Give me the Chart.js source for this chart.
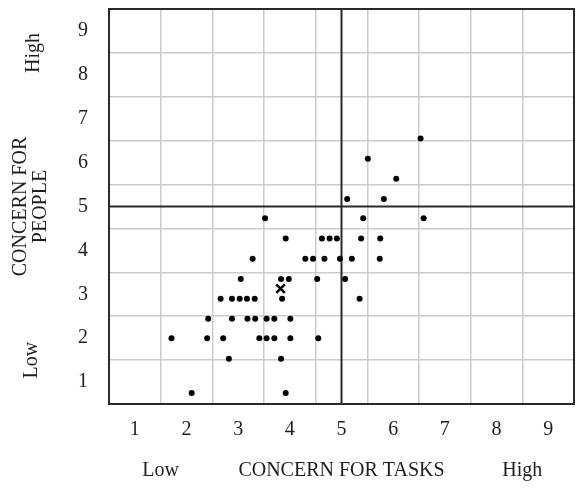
<!DOCTYPE html>
<html>
<head>
<meta charset="utf-8">
<script src="https://cdn.jsdelivr.net/npm/chart.js@4/dist/chart.umd.min.js"></script>
<style>
    body { margin: 0; background: #fff; }
    canvas { display: block; }
</style>
</head>
<body>
<canvas id="myChart" width="576" height="491"></canvas>
<script>
//
// DATA  (task score = x, people score = y)
//
const tickValues = [1, 2, 3, 4, 5, 6, 7, 8, 9];
const midValue = 5;

const taskScores = [
    6.53,
    5.51,
    6.06,
    5.11, 5.82,
    3.52, 5.42, 6.59,
    3.92, 4.62, 4.77, 4.91, 5.38, 5.75,
    3.28, 4.30, 4.45, 4.67, 4.97, 5.20, 5.74,
    3.05, 3.83, 3.98, 4.53, 5.07,
    2.66, 2.88, 3.03, 3.17, 3.32, 3.85, 5.35,
    2.42, 2.88, 3.18, 3.33, 3.55, 3.70, 4.01,
    1.71, 2.40, 2.71, 3.41, 3.55, 3.70, 4.01, 4.55,
    2.82, 3.83,
    2.10, 3.92
];
const peopleScores = [
    6.55,
    6.09,
    5.63,
    5.17, 5.17,
    4.73, 4.73, 4.73,
    4.27, 4.27, 4.27, 4.27, 4.27, 4.27,
    3.81, 3.81, 3.81, 3.81, 3.81, 3.81, 3.81,
    3.35, 3.35, 3.35, 3.35, 3.35,
    2.90, 2.90, 2.90, 2.90, 2.90, 2.90, 2.90,
    2.44, 2.44, 2.44, 2.44, 2.44, 2.44, 2.44,
    2.00, 2.00, 2.00, 2.00, 2.00, 2.00, 2.00, 2.00,
    1.53, 1.53,
    0.75, 0.75
];

// the marked one (x)
const markTask = [3.82];
const markPeople = [3.13];

// axis words
const xWords = { low: 'Low', title: 'CONCERN FOR TASKS', high: 'High' };
const yWords = { low: 'Low', title: ['CONCERN FOR', 'PEOPLE'], high: 'High' };


const fontFamily = "'Liberation Serif', 'Times New Roman', serif";
const textColor = '#1e1e1e';


//
// frame, quadrant lines and axis words
//
const quadrantPlugin = {
    id: 'quadrant',
    beforeDatasetsDraw(chart) {
        const { ctx, chartArea: a, scales: { x, y } } = chart;
        ctx.save();
        ctx.strokeStyle = '#2a2a2a';
        ctx.lineWidth = 2;
        ctx.strokeRect(a.left, a.top, a.right - a.left, a.bottom - a.top);
        const mx = x.getPixelForValue(midValue);
        const my = y.getPixelForValue(midValue);
        ctx.beginPath();
        ctx.moveTo(mx, a.top);
        ctx.lineTo(mx, a.bottom);
        ctx.moveTo(a.left, my);
        ctx.lineTo(a.right, my);
        ctx.stroke();
        ctx.restore();
    },
    afterDraw(chart) {
        const { ctx, chartArea: a, scales: { x, y } } = chart;
        ctx.save();
        ctx.font = '20px ' + fontFamily;
        ctx.fillStyle = textColor;
        ctx.textAlign = 'center';
        ctx.textBaseline = 'middle';

        // bottom
        const by = a.bottom + 67;
        ctx.fillText(xWords.low, x.getPixelForValue(1.5), by);
        ctx.fillText(xWords.title, x.getPixelForValue(midValue), by);
        ctx.fillText(xWords.high, x.getPixelForValue(8.5), by);

        // left (rotated)
        const rot = (txt, px, py) => {
            ctx.save();
            ctx.translate(px, py);
            ctx.rotate(-Math.PI / 2);
            ctx.fillText(txt, 0, 0);
            ctx.restore();
        };
        rot(yWords.high, a.left - 75, y.getPixelForValue(8.5));
        rot(yWords.low, a.left - 77, y.getPixelForValue(1.5));
        rot(yWords.title[0], a.left - 88, y.getPixelForValue(midValue));
        rot(yWords.title[1], a.left - 68, y.getPixelForValue(midValue));
        ctx.restore();
    }
};


//
// datasets
//
const dots = taskScores.map((v, i) => ({ x: v, y: peopleScores[i] }));
const marks = markTask.map((v, i) => ({ x: v, y: markPeople[i] }));

const gridColor = '#cccccc';

// no extra room for the end labels, they sit inside the cells
function noEdgePadding(scale) {
    scale.paddingTop = 0;
    scale.paddingBottom = 0;
    scale.paddingLeft = 0;
    scale.paddingRight = 0;
}

const axisBase = {
    type: 'linear',
    min: 0.5,
    max: 9.5,
    border: { display: false },
    grid: {
        offset: true,
        color: gridColor,
        lineWidth: 1.5,
        drawTicks: false,
    },
    ticks: {
        color: textColor,
        font: { family: fontFamily, size: 20 },
    },
    afterBuildTicks: (axis) => {
        axis.ticks = tickValues.map(v => ({ value: v }));
    },
};


//
// CHART
//
var myChart = new Chart(document.getElementById('myChart').getContext('2d'), {
    type: 'scatter',
    data: {
        datasets: [
            {
                label: 'managers',
                data: dots,
                backgroundColor: '#000',
                borderColor: '#000',
                pointRadius: 3,
                borderWidth: 0,
            },
            {
                label: 'mark',
                data: marks,
                pointStyle: 'crossRot',
                pointRadius: 6,
                borderColor: '#000',
                borderWidth: 2.5,
            },
        ],
    },
    options: {
        responsive: false,
        devicePixelRatio: 1,
        animation: false,
        layout: {
            autoPadding: false,
            padding: { top: 9, right: 2, left: 0, bottom: 0 },
        },
        plugins: {
            legend: { display: false },
            tooltip: { enabled: false },
        },
        scales: {
            x: Object.assign({}, axisBase, {
                position: 'bottom',
                ticks: Object.assign({}, axisBase.ticks, { padding: 14, maxRotation: 0 }),
                afterFit: (scale) => { scale.height = 87; noEdgePadding(scale); },
            }),
            y: Object.assign({}, axisBase, {
                position: 'left',
                ticks: Object.assign({}, axisBase.ticks, { padding: 21 }),
                afterFit: (scale) => { scale.width = 109; noEdgePadding(scale); },
            }),
        },
    },
    plugins: [quadrantPlugin],
});
</script>
</body>
</html>
